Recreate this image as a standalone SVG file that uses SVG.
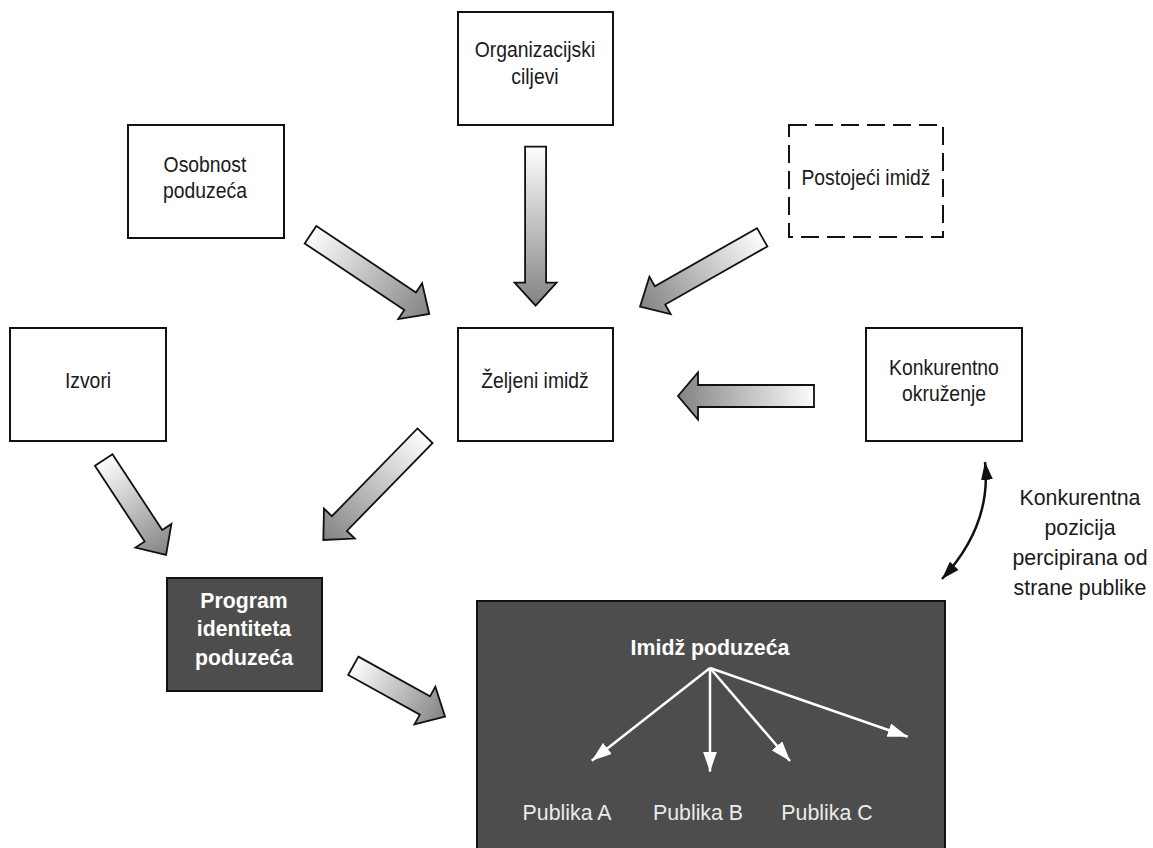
<svg xmlns="http://www.w3.org/2000/svg" width="1153" height="848" viewBox="0 0 1153 848">
<style>
.box{fill:#fff;stroke:#111;stroke-width:2}
.dash{fill:#fff;stroke:#111;stroke-width:2;stroke-dasharray:18 8}
.dark{fill:#4d4d4d;stroke:#111;stroke-width:2}
.t{font-family:"Liberation Sans",Arial,sans-serif;font-size:22px;fill:#1a1a1a;text-anchor:middle}
.tb{font-family:"Liberation Sans",Arial,sans-serif;font-size:22px;font-weight:bold;fill:#fff;text-anchor:middle}
.tw{font-family:"Liberation Sans",Arial,sans-serif;font-size:22px;fill:#ebebeb;text-anchor:middle}
.blk{fill:url(#g);stroke:#111;stroke-width:1.8;stroke-linejoin:miter}
.wl{fill:none;stroke:#fff;stroke-width:2.5}
.cl{fill:none;stroke:#111;stroke-width:2.5}
</style>
<defs>
<linearGradient id="g" x1="0" y1="0" x2="1" y2="0">
<stop offset="0" stop-color="#fdfdfd"/>
<stop offset="1" stop-color="#838383"/>
</linearGradient>
<marker id="mw" viewBox="0 0 20 14" refX="20" refY="7" markerWidth="20" markerHeight="14" markerUnits="userSpaceOnUse" orient="auto">
<path d="M0,0 L20,7 L0,14 Z" fill="#fff"/>
</marker>
<marker id="mb" viewBox="0 0 18 12" refX="18" refY="6" markerWidth="18" markerHeight="12" markerUnits="userSpaceOnUse" orient="auto-start-reverse">
<path d="M0,0 L18,6 L0,12 Z" fill="#111"/>
</marker>
</defs>

<g id="organizacijski-ciljevi">
<rect class="box" x="458" y="12" width="155" height="113"/>
<text class="t" transform="translate(535,0) scale(0.88,1)" x="0" y="57">Organizacijski</text>
<text class="t" transform="translate(535,0) scale(0.88,1)" x="0" y="84">ciljevi</text>
</g>
<g id="osobnost-poduzeca">
<rect class="box" x="128" y="125" width="156" height="113"/>
<text class="t" transform="translate(205,0) scale(0.88,1)" x="0" y="172">Osobnost</text>
<text class="t" transform="translate(205,0) scale(0.88,1)" x="0" y="198">poduzeća</text>
</g>
<g id="postojeci-imidz">
<rect class="dash" x="789" y="125" width="154" height="112"/>
<text class="t" transform="translate(866,0) scale(0.88,1)" x="0" y="185">Postojeći imidž</text>
</g>
<g id="izvori">
<rect class="box" x="10" y="328" width="156" height="113"/>
<text class="t" transform="translate(88,0) scale(0.88,1)" x="0" y="388">Izvori</text>
</g>
<g id="zeljeni-imidz">
<rect class="box" x="458" y="328" width="155" height="113"/>
<text class="t" transform="translate(535,0) scale(0.88,1)" x="0" y="388">Željeni imidž</text>
</g>
<g id="konkurentno-okruzenje">
<rect class="box" x="866" y="328" width="156" height="113"/>
<text class="t" transform="translate(944,0) scale(0.88,1)" x="0" y="375">Konkurentno</text>
<text class="t" transform="translate(944,0) scale(0.88,1)" x="0" y="401">okruženje</text>
</g>
<g id="program-identiteta">
<rect class="dark" x="167" y="578" width="155" height="113"/>
<text class="tb" transform="translate(244,0) scale(0.965,1)" x="0" y="608">Program</text>
<text class="tb" transform="translate(244,0) scale(0.965,1)" x="0" y="636.5">identiteta</text>
<text class="tb" transform="translate(244,0) scale(0.965,1)" x="0" y="665">poduzeća</text>
</g>
<g id="imidz-poduzeca">
<rect class="dark" x="477" y="601" width="468" height="260"/>
<text class="tb" transform="translate(710,0) scale(0.97,1)" x="0" y="655">Imidž poduzeća</text>
<text class="tw" transform="translate(567,0) scale(0.97,1)" x="0" y="820">Publika A</text>
<text class="tw" transform="translate(698,0) scale(0.97,1)" x="0" y="820">Publika B</text>
<text class="tw" transform="translate(827,0) scale(0.97,1)" x="0" y="820">Publika C</text>
<g id="fan">
<line class="wl" x1="710" y1="668" x2="591.7" y2="760.7" marker-end="url(#mw)"/>
<line class="wl" x1="710" y1="668" x2="710" y2="771.7" marker-end="url(#mw)"/>
<line class="wl" x1="710" y1="668" x2="790" y2="761" marker-end="url(#mw)"/>
<line class="wl" x1="710" y1="668" x2="907.7" y2="736.7" marker-end="url(#mw)"/>
</g>
</g>

<g id="connectors">
<path class="blk" transform="translate(310.5,234.7) rotate(33.7)" d="M0,-10.5 L119.8,-10.5 L119.8,-21.5 L142.8,0 L119.8,21.5 L119.8,10.5 L0,10.5 Z"/>
<path class="blk" transform="translate(535.6,146.7) rotate(90)" d="M0,-10.5 L136,-10.5 L136,-21 L159,0 L136,21 L136,10.5 L0,10.5 Z"/>
<path class="blk" transform="translate(762.2,237.3) rotate(150.4)" d="M0,-10.5 L117.5,-10.5 L117.5,-21.5 L140.5,0 L117.5,21.5 L117.5,10.5 L0,10.5 Z"/>
<path class="blk" transform="translate(814,396) rotate(180)" d="M0,-11 L116,-11 L116,-23.5 L136,0 L116,23.5 L116,11 L0,11 Z"/>
<path class="blk" transform="translate(103.7,460) rotate(56.7)" d="M0,-10.5 L90.6,-10.5 L90.6,-21.5 L113.6,0 L90.6,21.5 L90.6,10.5 L0,10.5 Z"/>
<path class="blk" transform="translate(425,435.8) rotate(134.3)" d="M0,-10.5 L122.6,-10.5 L122.6,-21.5 L145.6,0 L122.6,21.5 L122.6,10.5 L0,10.5 Z"/>
<path class="blk" transform="translate(353.3,665.8) rotate(29)" d="M0,-10.5 L81.9,-10.5 L81.9,-21.5 L104.9,0 L81.9,21.5 L81.9,10.5 L0,10.5 Z"/>
<path class="cl" d="M985,462 Q992,525 942,579" marker-start="url(#mb)" marker-end="url(#mb)"/>
</g>

<g id="label-konkurentna">
<text class="t" transform="translate(1080,0) scale(0.97,1)" x="0" y="505">Konkurentna</text>
<text class="t" transform="translate(1080,0) scale(0.97,1)" x="0" y="535">pozicija</text>
<text class="t" transform="translate(1080,0) scale(0.97,1)" x="0" y="565">percipirana od</text>
<text class="t" transform="translate(1080,0) scale(0.97,1)" x="0" y="595">strane publike</text>
</g>
</svg>
